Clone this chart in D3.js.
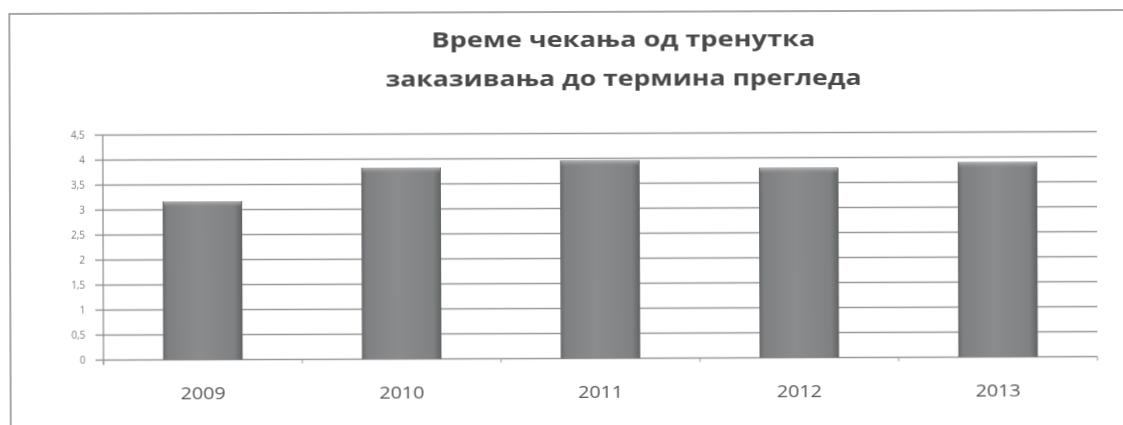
<!DOCTYPE html>
<html>
<head>
<meta charset="utf-8">
<script src="https://cdn.jsdelivr.net/npm/d3@7"></script>
<style>
  html, body { margin: 0; padding: 0; background: #ffffff; }
  svg { display: block; }
</style>
</head>
<body>
<svg id="chart" width="1123" height="425"></svg>
<script>
// Waiting time from booking to the appointment, by year
const years = ["2009", "2010", "2011", "2012", "2013"];
const waitValues = [3.17, 3.83, 3.96, 3.8, 3.9];
const yTicks = [0, 0.5, 1, 1.5, 2, 2.5, 3, 3.5, 4, 4.5];
const titleLines = ["Време чекања од тренутка", "заказивања до термина прегледа"];

const W = 1123, H = 425;
const plot = { left: 103, right: 1097, top: 133.5, bottom: 358.5 };

const svg = d3.select("#chart");
const defs = svg.append("defs");

// bar shading: darker edges, lighter body
const gH = defs.append("linearGradient").attr("id", "barBody")
  .attr("x1", "0%").attr("x2", "100%").attr("y1", "0%").attr("y2", "0%");
[["0%", "#666869"], ["6%", "#7e8082"], ["45%", "#898b8d"], ["90%", "#7f8183"], ["100%", "#606263"]]
  .forEach(([o, c]) => gH.append("stop").attr("offset", o).attr("stop-color", c));

const gT = defs.append("linearGradient").attr("id", "barTop")
  .attr("x1", "0%").attr("x2", "0%").attr("y1", "0%").attr("y2", "100%");
[["0%", "#b4b6b8", 1], ["100%", "#8a8c8e", 0]]
  .forEach(([o, c, a]) => gT.append("stop").attr("offset", o).attr("stop-color", c).attr("stop-opacity", a));

const soft = defs.append("filter").attr("id", "soft");
soft.append("feGaussianBlur").attr("stdDeviation", 0.35);

// whole sheet sits slightly tilted
const root = svg.append("g")
  .attr("transform", `rotate(-0.2 ${W / 2} ${H / 2})`)
  .attr("filter", "url(#soft)");

// frame of the chart area
root.append("path")
  .attr("d", `M10,${H + 5} L10,12 L${W + 5},12`)
  .attr("fill", "none").attr("stroke", "#8a8a8a").attr("stroke-width", 1.5);

const x = d3.scaleBand().domain(years).range([plot.left, plot.right])
  .paddingInner(0.6).paddingOuter(0.3);
const y = d3.scaleLinear().domain([0, 4.5]).range([plot.bottom, plot.top]);

// gridlines
root.append("g").selectAll("line").data(yTicks).join("line")
  .attr("x1", plot.left - 8).attr("x2", plot.right)
  .attr("y1", d => y(d)).attr("y2", d => y(d))
  .attr("stroke", "#9a9a9a").attr("stroke-width", 1.4);

// value axis
const yAxis = d3.axisLeft(y).tickValues(yTicks).tickSize(0).tickPadding(18)
  .tickFormat(d => String(d).replace(".", ","));
const ya = root.append("g").attr("transform", `translate(${plot.left},0)`).call(yAxis);
ya.select(".domain").remove();
ya.selectAll("text")
  .attr("fill", "#7a7a7a")
  .style("font-family", "'Open Sans', sans-serif")
  .style("font-size", "10px");
root.append("line")
  .attr("x1", plot.left).attr("x2", plot.left)
  .attr("y1", plot.top).attr("y2", plot.bottom + 5)
  .attr("stroke", "#8a8a8a").attr("stroke-width", 1.2);

// category ticks under the base line
const step = x.step();
const bounds = d3.range(years.length + 1).map(i => plot.left + i * step);
root.append("g").selectAll("line").data(bounds).join("line")
  .attr("x1", d => d).attr("x2", d => d)
  .attr("y1", plot.bottom).attr("y2", plot.bottom + 4)
  .attr("stroke", "#9a9a9a").attr("stroke-width", 1);

// bars
const bars = root.append("g").selectAll("g").data(years.map((yr, i) => ({ yr, v: waitValues[i] }))).join("g");
bars.append("rect")
  .attr("x", d => x(d.yr)).attr("width", x.bandwidth())
  .attr("y", d => y(d.v)).attr("height", d => y(0) - y(d.v))
  .attr("fill", "url(#barBody)");
bars.append("rect")
  .attr("x", d => x(d.yr) + 1).attr("width", x.bandwidth() - 2)
  .attr("y", d => y(d.v)).attr("height", 6)
  .attr("fill", "url(#barTop)");

// category labels
const xAxis = d3.axisBottom(x).tickSize(0).tickPadding(28);
const xa = root.append("g").attr("transform", `translate(0,${plot.bottom})`).call(xAxis);
xa.select(".domain").remove();
xa.selectAll("text")
  .attr("fill", "#555")
  .style("font-family", "'Open Sans', sans-serif")
  .style("font-size", "16px")
  .attr("textLength", 45).attr("lengthAdjust", "spacingAndGlyphs");

// title
const titleWidths = [384, 476];
root.append("g").selectAll("text").data(titleLines).join("text")
  .attr("x", 624).attr("y", (d, i) => 47 + i * 39)
  .attr("text-anchor", "middle")
  .attr("fill", "#4a4a4a")
  .style("font-family", "'Open Sans', sans-serif")
  .style("font-weight", "700")
  .style("font-size", "21px")
  .attr("textLength", (d, i) => titleWidths[i])
  .attr("lengthAdjust", "spacingAndGlyphs")
  .text(d => d);
</script>
</body>
</html>
